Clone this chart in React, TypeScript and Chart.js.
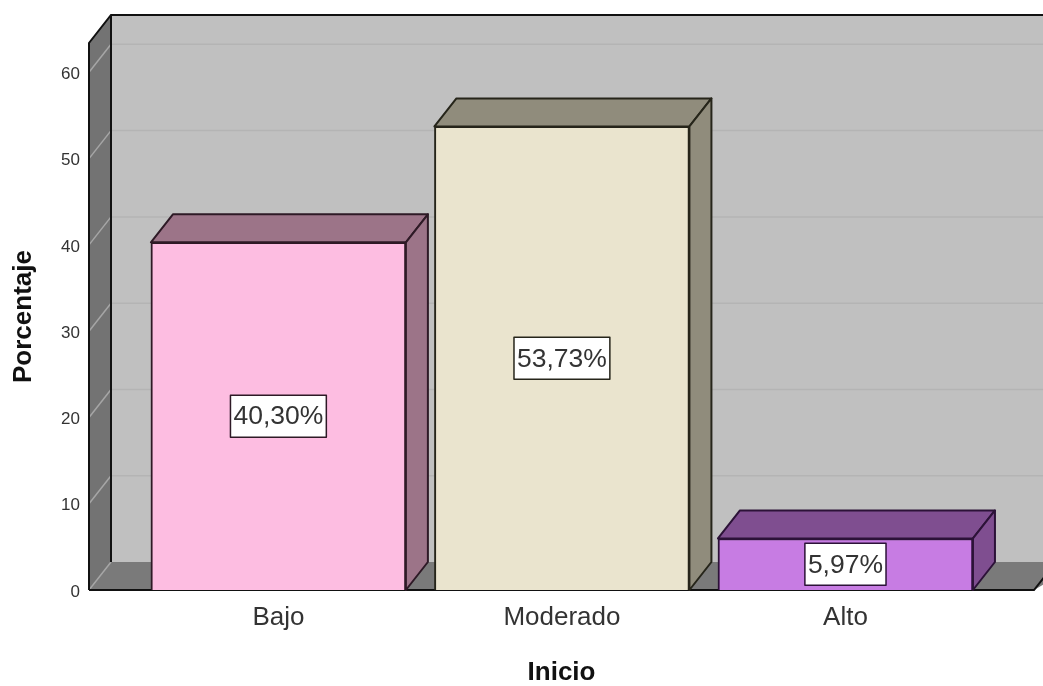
import React, { useEffect, useRef } from "react";
import { Chart, registerables } from "chart.js";

Chart.register(...registerables);

const categories = ["Bajo", "Moderado", "Alto"];
const values = [40.3, 53.73, 5.97];
const valueLabels = ["40,30%", "53,73%", "5,97%"];
const frontColors = ["#FDBDE1", "#EAE4CE", "#C77CE3"];
const sideColors = ["#9C7488", "#908C7C", "#7F4E90"];
const edgeColors = ["#2E1A26", "#26251A", "#2C1238"];
const yTicks = [0, 10, 20, 30, 40, 50, 60];

const DX = 22;
const DY = 28;
const FONT = '"Liberation Sans", Arial, sans-serif';

function poly(ctx: CanvasRenderingContext2D, pts: number[][], fill: string | null, stroke: string | null, lw = 2) {
  ctx.beginPath();
  pts.forEach((p, i) => (i ? ctx.lineTo(p[0], p[1]) : ctx.moveTo(p[0], p[1])));
  ctx.closePath();
  if (fill) {
    ctx.fillStyle = fill;
    ctx.fill();
  }
  if (stroke) {
    ctx.strokeStyle = stroke;
    ctx.lineWidth = lw;
    ctx.lineJoin = "round";
    ctx.stroke();
  }
}

function line(ctx: CanvasRenderingContext2D, pts: number[][], stroke: string, lw: number) {
  ctx.beginPath();
  pts.forEach((p, i) => (i ? ctx.lineTo(p[0], p[1]) : ctx.moveTo(p[0], p[1])));
  ctx.strokeStyle = stroke;
  ctx.lineWidth = lw;
  ctx.stroke();
}

const walls3d = {
  id: "walls3d",
  beforeDatasetsDraw(chart: any) {
    const { ctx, chartArea: a, scales } = chart;
    const y = scales.y;
    const W = chart.width + 40;
    ctx.save();
    // back wall
    poly(ctx, [[a.left + DX, a.top - DY], [W, a.top - DY], [W, a.bottom - DY], [a.left + DX, a.bottom - DY]], "#C0C0C0", null);
    // left wall
    poly(ctx, [[a.left, a.top], [a.left + DX, a.top - DY], [a.left + DX, a.bottom - DY], [a.left, a.bottom]], "#737373", null);
    // floor
    poly(ctx, [[a.left, a.bottom], [a.left + DX, a.bottom - DY], [W, a.bottom - DY], [a.right, a.bottom]], "#7A7A7A", null);
    // grid lines
    yTicks.forEach((t) => {
      const py = y.getPixelForValue(t);
      line(ctx, [[a.left, py], [a.left + DX, py - DY]], "#A6A6A6", 1.5);
      if (t > 0) line(ctx, [[a.left + DX, py - DY], [W, py - DY]], "#B4B4B4", 1.5);
    });
    // outlines
    line(ctx, [[a.left, a.bottom], [a.left, a.top], [a.left + DX, a.top - DY], [W, a.top - DY]], "#111111", 2);
    line(ctx, [[a.left + DX, a.top - DY], [a.left + DX, a.bottom - DY]], "#111111", 2);
    line(ctx, [[a.left, a.bottom], [a.right, a.bottom], [a.right + DX, a.bottom - DY]], "#111111", 2);
    ctx.restore();
  },
  afterDatasetsDraw(chart: any) {
    const { ctx } = chart;
    const bars = chart.getDatasetMeta(0).data;
    ctx.save();
    bars.forEach((b: any, i: number) => {
      const l = b.x - b.width / 2;
      const r = b.x + b.width / 2;
      poly(ctx, [[l, b.y], [l + DX, b.y - DY], [r + DX, b.y - DY], [r, b.y]], sideColors[i], edgeColors[i]);
      poly(ctx, [[r, b.y], [r + DX, b.y - DY], [r + DX, b.base - DY], [r, b.base]], sideColors[i], edgeColors[i]);
      // value label
      ctx.font = `26.5px ${FONT}`;
      ctx.textAlign = "center";
      ctx.textBaseline = "middle";
      const tw = ctx.measureText(valueLabels[i]).width;
      const bw = tw + 6;
      const bh = 42;
      const cy = (b.y + b.base) / 2;
      ctx.fillStyle = "#FFFFFF";
      ctx.fillRect(b.x - bw / 2, cy - bh / 2, bw, bh);
      ctx.strokeStyle = edgeColors[i];
      ctx.lineWidth = 1.5;
      ctx.strokeRect(b.x - bw / 2, cy - bh / 2, bw, bh);
      ctx.fillStyle = "#333333";
      ctx.fillText(valueLabels[i], b.x, cy + 1);
    });
    ctx.restore();
  },
};

export default function App() {
  const ref = useRef<HTMLCanvasElement>(null);
  useEffect(() => {
    document.body.style.margin = "0";
    document.body.style.background = "#FFFFFF";
    const chart = new Chart(ref.current!, {
      type: "bar",
      data: {
        datasets: [
          {
            label: "Porcentaje",
            data: values.map((v, i) => ({ x: i, y: v })),
            backgroundColor: frontColors,
            borderColor: edgeColors,
            borderWidth: 2,
            barThickness: 255,
          },
        ],
      },
      options: {
        responsive: false,
        animation: false,
        layout: { padding: { top: 43, right: 9, left: 0, bottom: 0 } },
        plugins: { legend: { display: false }, tooltip: { enabled: false } },
        scales: {
          x: {
            type: "linear",
            offset: false,
            min: -0.668,
            max: 2.665,
            grid: { display: false, drawTicks: false },
            border: { display: false },
            afterBuildTicks(s: any) {
              s.ticks = categories.map((_, i) => ({ value: i }));
            },
            afterFit(s: any) {
              s.height = 96;
            },
            ticks: {
              autoSkip: false,
              maxRotation: 0,
              padding: 12,
              color: "#333333",
              font: { family: FONT, size: 26 },
              callback: (v: any) => categories[v],
            },
            title: {
              display: true,
              text: "Inicio",
              color: "#111111",
              padding: 0,
              font: { family: FONT, size: 26, weight: "bold", lineHeight: 1 },
            },
          },
          y: {
            min: 0,
            max: 63.4,
            grid: { display: false, drawTicks: false },
            border: { display: false },
            afterBuildTicks(s: any) {
              s.ticks = yTicks.map((v) => ({ value: v }));
            },
            afterFit(s: any) {
              s.width = 89;
            },
            ticks: {
              padding: 9,
              labelOffset: 2,
              color: "#333333",
              font: { family: FONT, size: 17 },
            },
            title: {
              display: true,
              text: "Porcentaje",
              color: "#111111",
              padding: { top: 11, bottom: 0 },
              font: { family: FONT, size: 26, weight: "bold", lineHeight: 1 },
            },
          },
        },
      },
      plugins: [walls3d],
    } as any);
    return () => chart.destroy();
  }, []);
  return <canvas ref={ref} width={1043} height={686} style={{ display: "block" }} />;
}
